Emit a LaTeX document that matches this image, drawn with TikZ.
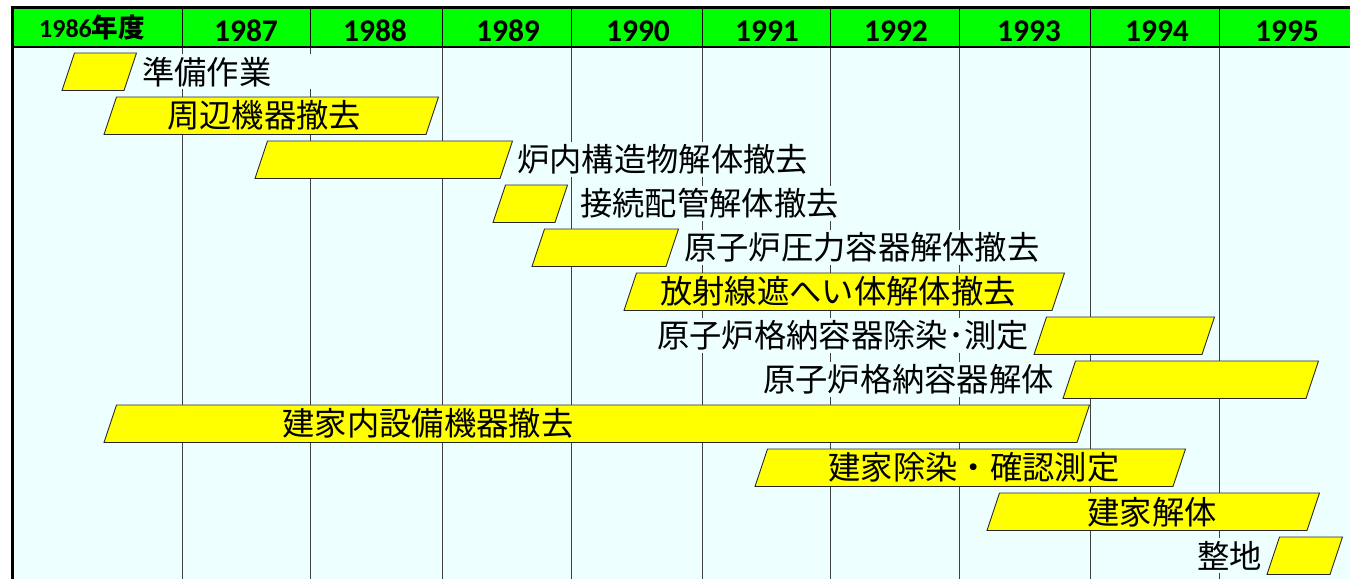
\documentclass[tikz,border=0pt]{standalone}
\usepackage{fontspec}
\newfontfamily\yearfont{Carlito}
\newfontfamily\jp{Noto Sans CJK JP}
\definecolor{bg}{HTML}{EEFFFF}
\definecolor{hdr}{HTML}{00FF00}
\definecolor{bary}{HTML}{FFFF00}
\newcommand\ganttbar[3]{% BL x, BR x, row index
  \path[barshape] ({#1},{53+44*#3+37.5}) -- ({#1+12.5},{53+44*#3}) -- ({#2+12.5},{53+44*#3}) -- ({#2},{53+44*#3+37.5}) -- cycle;}
\begin{document}
\begin{tikzpicture}[x=1pt,y=-1pt,
  yr/.style={font=\yearfont\bfseries\fontsize{31.5}{31.5}\selectfont, anchor=base, inner sep=0pt},
  lbl/.style={font=\jp\fontsize{32.3}{33}\selectfont, inner xsep=2pt, inner ysep=0pt, minimum height=35pt},
  outl/.style={lbl, fill=bg},
  barshape/.style={fill=bary, draw=black!85, line width=0.9pt, line join=miter},
  grid/.style={draw=black!75, line width=0.9pt}]
\fill[white] (0,0) rectangle (1350,579);
\useasboundingbox (0,0) rectangle (1350,579);
\fill[bg] (12.5,47) rectangle (1350,579);
\fill[hdr] (12.5,8) rectangle (1350,47);
\foreach \x in {182,310,442,571,702,830,959,1090,1219}{
  \draw[grid] (\x,47) -- (\x,579);
  \draw[black, line width=1pt] (\x,8) -- (\x,47);
}
\draw[black, line width=1.2pt] (12.5,47) -- (1350,47);
\draw[black, line width=3pt] (12.5,579) -- (12.5,7.5) -- (1350,7.5);
% header
\node[anchor=base, inner sep=0pt] (y86) at (92,37) {{\yearfont\bfseries\fontsize{26}{26}\selectfont 1986}{\jp\bfseries\fontsize{26.5}{26.5}\selectfont 年度}};
\node[yr] (y87) at (246,41) {1987};
\node[yr] (y88) at (375,41) {1988};
\node[yr] (y89) at (508,41) {1989};
\node[yr] (y90) at (638,41) {1990};
\node[yr] (y91) at (767,41) {1991};
\node[yr] (y92) at (896,41) {1992};
\node[yr] (y93) at (1029,41) {1993};
\node[yr] (y94) at (1157,41) {1994};
\node[yr] (y95) at (1287,41) {1995};
% bars
\ganttbar{62}{124}{0}
\ganttbar{104}{426}{1}
\ganttbar{255}{500}{2}
\ganttbar{493}{555}{3}
\ganttbar{532}{666}{4}
\ganttbar{624}{1052}{5}
\ganttbar{1034}{1202}{6}
\ganttbar{1063}{1306}{7}
\ganttbar{104}{1077}{8}
\ganttbar{755}{1173}{9}
\ganttbar{987}{1307}{10}
\ganttbar{1267}{1330}{11}
% labels
\node[outl, anchor=west, text width=170pt, align=left] (l1) at (140,71.75) {準備作業};
\node[lbl] (l2) at (264,115.75) {周辺機器撤去};
\node[outl, anchor=west] (l3) at (515,159.75) {炉内構造物解体撤去};
\node[outl, anchor=west] (l4) at (578,203.75) {接続配管解体撤去};
\node[outl, anchor=west] (l5) at (682,247.75) {原子炉圧力容器解体撤去};
\node[lbl] (l6) at (838,291.75) {放射線遮へい体解体撤去};
\node[outl, anchor=east] (l7) at (1031,335.75) {原子炉格納容器除染･測定};
\node[outl, anchor=east] (l8) at (1056,379.75) {原子炉格納容器解体};
\node[lbl] (l9) at (428,423.75) {建家内設備機器撤去};
\node[lbl] (l10) at (974,467.75) {建家除染・確認測定};
\node[lbl] (l11) at (1152,511.75) {建家解体};
\node[outl, anchor=east] (l12) at (1264,555.75) {整地};
\end{tikzpicture}
\end{document}
